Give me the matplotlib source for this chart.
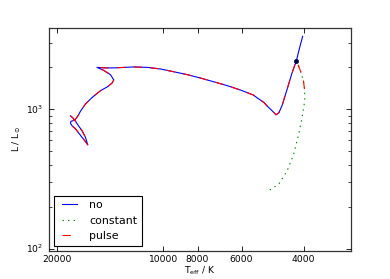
import matplotlib
matplotlib.use("Agg")
import matplotlib.pyplot as plt
from matplotlib.ticker import FixedLocator, NullLocator, FixedFormatter

plt.style.use('classic')
plt.rcParams['mathtext.fontset'] = 'dejavusans'
plt.rcParams['font.family'] = ['DejaVu Sans']
plt.rcParams['font.size'] = 6.6

# main evolutionary track (shared by all models up to the marked point)
track_T = [18340, 18040, 17750, 17400, 16990, 16630, 16380,
           16690, 16990, 17350, 17750, 18140, 18340, 18280,
           18040, 17750, 17460, 17180, 16630, 15920, 15080, 14400, 13990, 13820, 14120,
           14790, 15430, 14600, 13850, 12150, 11090, 10190, 9363, 8545, 7850,
           7211, 6580, 6045, 5555, 5375, 5193, 5069, 4916, 4790, 4703, 4605,
           4507, 4411, 4314, 4195]
track_L = [901, 868, 823, 764, 703, 632, 558,
           596, 630, 675, 727, 764, 796, 823,
           830, 851, 901, 971, 1094, 1219, 1362, 1455, 1542, 1626, 1775,
           1911, 2002, 1985, 1985, 2016, 2002, 1950, 1865, 1775, 1680,
           1581, 1480, 1378, 1269, 1193, 1126, 1054, 979, 916, 947, 1070,
           1275, 1522, 1834, 2236]

# branch point
mark_T = 4195
mark_L = 2236

# continuation for each model after the branch point
no_T = [4114, 4027]
no_L = [2728, 3342]

pulse_T = [4088, 4007, 3973, 3972]
pulse_L = [1896, 1607, 1362, 1260]

const_T = [4195, 4088, 4007, 3973, 3973, 4043, 4133, 4270, 4458, 4709, 5079]
const_L = [2236, 1896, 1607, 1362, 1155, 876, 666, 478, 363, 291, 258]

xticks = [20000, 10000, 8000, 6000, 4000]
xticklabels = ['20000', '10000', '8000', '6000', '4000']

fig = plt.figure(figsize=(3.9, 2.79), dpi=100)
ax = fig.add_subplot(111)

lw = 0.8
ax.plot(track_T + no_T, track_L + no_L, color='b', lw=lw, label='no')
ax.plot(const_T, const_L, color='g', ls=':', lw=lw, label='constant')
ax.plot(track_T + pulse_T, track_L + pulse_L, color='r', ls='--', lw=lw, label='pulse')
ax.plot([mark_T], [mark_L], 'o', color='#000040', markersize=3, mec='#000040')

ax.set_xscale('log')
ax.set_yscale('log')
ax.set_xlim(21130, 2937)
ax.set_ylim(96.7, 3840)
ax.xaxis.set_major_locator(FixedLocator(xticks))
ax.xaxis.set_major_formatter(FixedFormatter(xticklabels))
ax.xaxis.set_minor_locator(NullLocator())

ax.tick_params(which='major', length=3.5, width=0.6)
ax.tick_params(which='minor', length=2, width=0.5)
ax.tick_params(axis='x', which='major', pad=3)
for s in ax.spines.values():
    s.set_linewidth(0.9)
    s.set_color('#333333')

ax.set_xlabel(r'T$_{\rm eff}$ / K', labelpad=0)
ax.set_ylabel(r'L / L$_{\odot}$', labelpad=2)

leg = ax.legend(loc='lower left', fontsize=7.9, handlelength=2.0)
leg.get_frame().set_linewidth(0.8)

fig.savefig('out.png', dpi=100)
